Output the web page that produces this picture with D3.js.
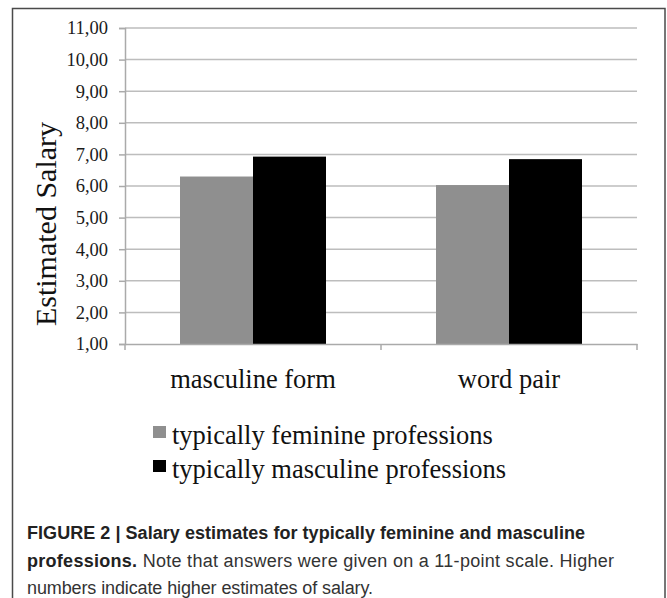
<!DOCTYPE html>
<meta charset="utf-8">
<style>
  body { margin: 0; background: #fff; }
  svg { display: block; }
</style>
<svg width="667" height="598"></svg>
<script src="https://cdn.jsdelivr.net/npm/d3@7"></script>
<script>

var categories = ["masculine form", "word pair"],
    series = ["typically feminine professions", "typically masculine professions"],
    feminine = [6.30, 6.03],
    masculine = [6.93, 6.85],
    yTicks = [1, 2, 3, 4, 5, 6, 7, 8, 9, 10, 11],
    colors = ["#8f8f8f", "#000000"];

var svg = d3.select("svg");

var margin = {left: 125, right: 637, top: 28, bottom: 344};

var x = d3.scaleBand()
    .domain(categories)
    .range([margin.left, margin.right]);

var xInner = d3.scaleBand()
    .domain(series)
    .range([0, 146]);

var y = d3.scaleLinear()
    .domain([1, 11])
    .range([margin.bottom, margin.top]);

var serif = "'Liberation Serif', 'Times New Roman', serif";

// frame
svg.append("rect")
    .attr("x", 12.5).attr("y", 8.5)
    .attr("width", 652.5).attr("height", 600)
    .attr("fill", "none")
    .attr("stroke", "#4a4a4a")
    .attr("stroke-width", 1.5);

// grid lines
svg.append("g")
  .selectAll("line")
  .data(yTicks.slice(1))
  .enter().append("line")
    .attr("x1", margin.left).attr("x2", margin.right)
    .attr("y1", function(d) { return y(d); })
    .attr("y2", function(d) { return y(d); })
    .attr("stroke", "#bdbdbd")
    .attr("stroke-width", 1.5);

// bars
var rows = categories.map(function(c, i) {
  return [{cat: c, s: series[0], v: feminine[i]}, {cat: c, s: series[1], v: masculine[i]}];
});

svg.append("g")
  .selectAll("g")
  .data(rows)
  .enter().append("g")
    .attr("transform", function(d) { return "translate(" + (x(d[0].cat) + (x.bandwidth() - 146) / 2) + ",0)"; })
  .selectAll("rect")
  .data(function(d) { return d; })
  .enter().append("rect")
    .attr("x", function(d) { return xInner(d.s); })
    .attr("width", xInner.bandwidth())
    .attr("y", function(d) { return y(d.v); })
    .attr("height", function(d) { return y(1) - y(d.v); })
    .attr("fill", function(d, i) { return colors[i]; });

// y axis
var yAxis = svg.append("g")
    .attr("transform", "translate(" + margin.left + ",0)")
    .call(d3.axisLeft(y).tickValues(yTicks).tickSize(6).tickPadding(11)
      .tickFormat(function(d) { return d3.format(".2f")(d).replace(".", ","); }));
yAxis.attr("font-family", serif).attr("font-size", 18.5);
yAxis.select(".domain").attr("stroke", "#aaaaaa").attr("stroke-width", 1.5);
yAxis.selectAll(".tick line").attr("stroke", "#aaaaaa").attr("stroke-width", 1.5);
yAxis.selectAll(".tick text").attr("fill", "#1a1a1a");

// x axis
var xAxis = svg.append("g")
    .attr("transform", "translate(0," + margin.bottom + ")")
    .call(d3.axisBottom(x).tickSize(0).tickPadding(25));
xAxis.select(".domain").attr("stroke", "#aaaaaa").attr("stroke-width", 1.5);
xAxis.selectAll("text")
    .attr("font-family", serif)
    .attr("font-size", 26.5)
    .attr("fill", "#111");

xAxis.selectAll(".sep")
  .data([margin.left, x(categories[1]), margin.right])
  .enter().append("line")
    .attr("x1", function(d) { return d; }).attr("x2", function(d) { return d; })
    .attr("y1", 0).attr("y2", 6)
    .attr("stroke", "#aaaaaa")
    .attr("stroke-width", 1.5);

// y title
svg.append("text")
    .attr("transform", "translate(56,224) rotate(-90)")
    .attr("text-anchor", "middle")
    .attr("font-family", serif)
    .attr("font-size", 30)
    .attr("fill", "#111")
    .text("Estimated Salary");

// legend
var legend = svg.append("g")
  .selectAll("g")
  .data(series)
  .enter().append("g")
    .attr("transform", function(d, i) { return "translate(153," + (444 + i * 34) + ")"; });
legend.append("rect")
    .attr("x", 0).attr("y", -18)
    .attr("width", 13).attr("height", 12)
    .attr("fill", function(d, i) { return colors[i]; });
legend.append("text")
    .attr("x", 19)
    .attr("font-family", serif)
    .attr("font-size", 26.5)
    .attr("fill", "#111")
    .text(function(d) { return d; });

// caption
var sans = "'Liberation Sans', Arial, sans-serif";
var cap = svg.append("g")
    .attr("font-family", sans)
    .attr("font-size", 18)
    .attr("fill", "#222");

cap.append("text")
    .attr("x", 27).attr("y", 539)
    .attr("font-weight", "bold")
    .attr("textLength", 558).attr("lengthAdjust", "spacing")
    .text("FIGURE 2 | Salary estimates for typically feminine and masculine");

var l2 = cap.append("text").attr("x", 27).attr("y", 567)
    .attr("textLength", 587).attr("lengthAdjust", "spacing");
l2.append("tspan").attr("font-weight", "bold").text("professions.");
l2.append("tspan").attr("fill", "#333").text(" Note that answers were given on a 11-point scale. Higher");

cap.append("text")
    .attr("x", 27).attr("y", 594)
    .attr("fill", "#333")
    .attr("textLength", 346).attr("lengthAdjust", "spacing")
    .text("numbers indicate higher estimates of salary.");

</script>
